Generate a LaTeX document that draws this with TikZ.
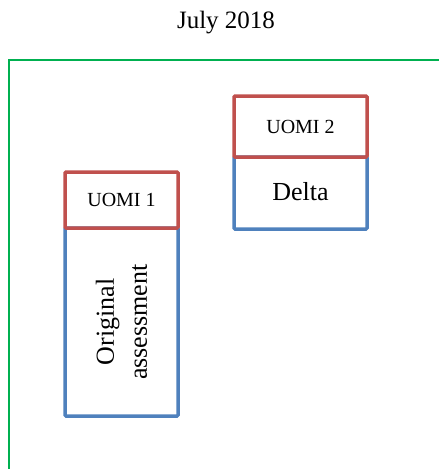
\documentclass[tikz,border=0pt]{standalone}
\usepackage{fontspec}
\setmainfont{Liberation Serif}
\definecolor{frameg}{HTML}{00B050}
\definecolor{boxred}{HTML}{C0504D}
\definecolor{boxblue}{HTML}{4F81BD}
\begin{document}
\begin{tikzpicture}[x=1pt,y=-1pt,
  redbox/.style={draw=boxred,line width=3.5pt,rounded corners=1pt},
  bluebox/.style={draw=boxblue,line width=3.5pt,rounded corners=1pt},
  lbl/.style={inner sep=0pt,text=black}]
\useasboundingbox (0,0) rectangle (439,469);
% outer green frame
\draw[frameg,line width=1.8pt] (9,475) -- (9,60) -- (445,60);
% title
\node[lbl,font=\fontsize{25}{30}\selectfont] (title) at (226,23) {July 2018};
% left stack
\draw[bluebox] (65,228) rectangle (178,416);
\draw[redbox] (65,172) rectangle (178,228);
\node[lbl,font=\fontsize{20}{24}\selectfont] (u1) at (121.5,200) {UOMI 1};
\node[lbl,font=\fontsize{26}{33}\selectfont,rotate=90,align=center] (orig) at (121.5,322) {Original\\assessment};
% right stack
\draw[bluebox] (234,157) rectangle (367,229);
\draw[redbox] (234,96) rectangle (367,157);
\node[lbl,font=\fontsize{20}{24}\selectfont] (u2) at (300.5,127) {UOMI 2};
\node[lbl,font=\fontsize{26}{31}\selectfont] (delta) at (300.5,192) {Delta};
\end{tikzpicture}
\end{document}
